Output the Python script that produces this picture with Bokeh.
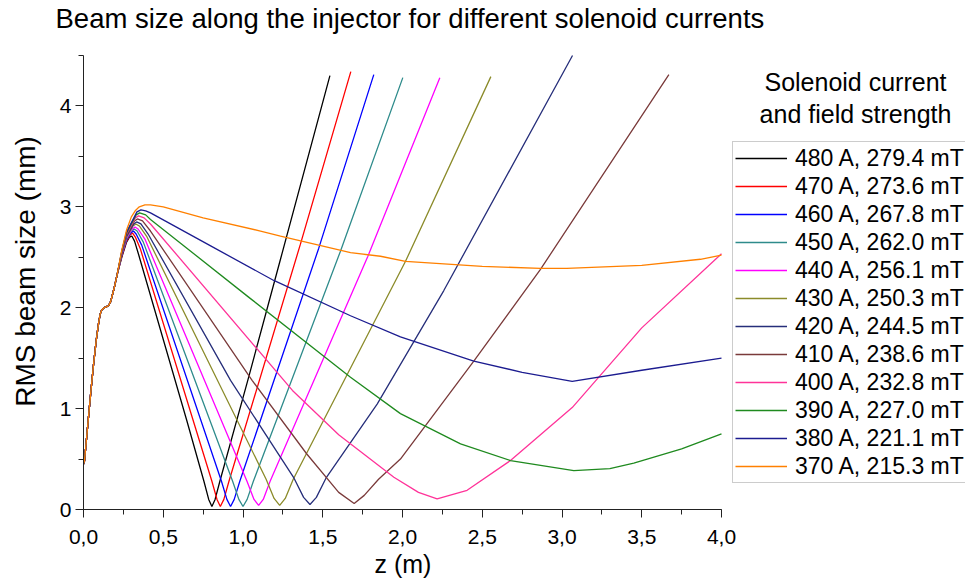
from bokeh.plotting import figure
from bokeh.models import Range1d, FixedTicker, Legend, LegendItem, Label, Title
from bokeh.embed import file_html
from bokeh.resources import INLINE

FONT = "Liberation Sans"

# ---- data ----
title_text = "Beam size along the injector for different solenoid currents"
x_label = "z (m)"
y_label = "RMS beam size (mm)"
legend_title_1 = "Solenoid current"
legend_title_2 = "and field strength"

x_ticks = [0.0, 0.5, 1.0, 1.5, 2.0, 2.5, 3.0, 3.5, 4.0]
x_tick_labels = ["0,0", "0,5", "1,0", "1,5", "2,0", "2,5", "3,0", "3,5", "4,0"]
y_ticks = [0, 1, 2, 3, 4]

labels = ["480 A, 279.4 mT", "470 A, 273.6 mT", "460 A, 267.8 mT", "450 A, 262.0 mT",
          "440 A, 256.1 mT", "430 A, 250.3 mT", "420 A, 244.5 mT", "410 A, 238.6 mT",
          "400 A, 232.8 mT", "390 A, 227.0 mT", "380 A, 221.1 mT", "370 A, 215.3 mT"]
colors = ["#000000", "#FF0000", "#0000FF", "#2E8B8B", "#FF00FF", "#8B8B2A",
          "#262E7A", "#7A3A3A", "#FF3399", "#1F8A1F", "#1C1C90", "#FF8000"]

# common part of all curves (gun region)
z_common = [0.0, 0.006, 0.02, 0.031, 0.045, 0.063, 0.08, 0.094, 0.105, 0.115, 0.13, 0.145, 0.157, 0.17, 0.19, 0.21]
y_common = [0.45, 0.48, 0.72, 0.91, 1.15, 1.44, 1.68, 1.84, 1.94, 1.98, 2.00, 2.01, 2.02, 2.06, 2.18, 2.32]

z_480 = [0.24, 0.27, 0.288, 0.303, 0.32, 0.345, 0.648, 0.755, 0.785, 0.805, 0.825, 0.855, 1.03, 1.235, 1.545]
y_480 = [2.50, 2.65, 2.70, 2.71, 2.66, 2.53, 0.88, 0.28, 0.10, 0.03, 0.10, 0.28, 1.28, 2.48, 4.30]

z_470 = [0.24, 0.27, 0.292, 0.308, 0.325, 0.355, 0.805, 0.837, 0.858, 0.88, 0.912, 1.36, 1.676]
y_470 = [2.51, 2.66, 2.72, 2.74, 2.70, 2.59, 0.28, 0.10, 0.03, 0.10, 0.28, 2.63, 4.34]

z_460 = [0.24, 0.27, 0.296, 0.313, 0.33, 0.365, 0.865, 0.899, 0.922, 0.945, 0.98, 1.475, 1.82]
y_460 = [2.52, 2.67, 2.74, 2.76, 2.73, 2.62, 0.28, 0.10, 0.03, 0.10, 0.28, 2.59, 4.31]

z_450 = [0.24, 0.27, 0.30, 0.318, 0.336, 0.375, 0.935, 0.974, 1.0, 1.026, 1.065, 1.611, 2.002]
y_450 = [2.525, 2.68, 2.76, 2.78, 2.76, 2.65, 0.28, 0.10, 0.03, 0.10, 0.28, 2.56, 4.28]

z_440 = [0.24, 0.27, 0.305, 0.323, 0.342, 0.385, 1.025, 1.069, 1.098, 1.127, 1.17, 1.783, 2.234]
y_440 = [2.53, 2.69, 2.78, 2.80, 2.78, 2.68, 0.28, 0.10, 0.04, 0.10, 0.28, 2.51, 4.28]

z_430 = [0.24, 0.27, 0.31, 0.328, 0.35, 0.395, 1.145, 1.195, 1.23, 1.265, 1.315, 2.019, 2.554]
y_430 = [2.535, 2.70, 2.81, 2.83, 2.81, 2.71, 0.30, 0.11, 0.04, 0.11, 0.30, 2.46, 4.29]

z_420 = [0.24, 0.27, 0.315, 0.333, 0.36, 0.405, 0.922, 1.32, 1.38, 1.42, 1.46, 1.52, 1.841, 2.259, 3.066]
y_420 = [2.54, 2.71, 2.83, 2.85, 2.83, 2.73, 1.28, 0.31, 0.12, 0.05, 0.12, 0.31, 1.045, 2.17, 4.50]

z_410 = [0.24, 0.27, 0.32, 0.338, 0.37, 0.42, 1.057, 1.40, 1.60, 1.697, 1.76, 1.85, 1.987, 2.447, 2.865, 3.67]
y_410 = [2.545, 2.72, 2.86, 2.88, 2.86, 2.76, 1.28, 0.55, 0.17, 0.06, 0.14, 0.30, 0.50, 1.47, 2.38, 4.31]

z_400 = [0.24, 0.27, 0.325, 0.345, 0.38, 0.42, 1.31, 1.60, 1.946, 2.10, 2.217, 2.405, 2.677, 3.064, 3.50, 4.0]
y_400 = [2.55, 2.73, 2.89, 2.91, 2.89, 2.83, 1.18, 0.74, 0.32, 0.17, 0.105, 0.19, 0.485, 1.01, 1.80, 2.535]

z_390 = [0.24, 0.27, 0.33, 0.352, 0.39, 0.42, 1.047, 1.674, 1.987, 2.364, 2.677, 3.074, 3.3, 3.45, 3.75, 4.0]
y_390 = [2.555, 2.74, 2.92, 2.94, 2.92, 2.875, 2.09, 1.31, 0.95, 0.65, 0.485, 0.386, 0.405, 0.46, 0.60, 0.75]

z_380 = [0.24, 0.27, 0.335, 0.36, 0.39, 0.42, 0.80, 1.193, 1.674, 1.987, 2.447, 2.75, 3.064, 3.5, 4.0]
y_380 = [2.56, 2.75, 2.95, 2.97, 2.96, 2.94, 2.61, 2.27, 1.92, 1.71, 1.47, 1.36, 1.27, 1.38, 1.50]

z_370 = [0.24, 0.27, 0.30, 0.324, 0.35, 0.385, 0.42, 0.5, 0.75, 1.11, 1.235, 1.674, 1.862, 2.019, 2.5, 2.865, 3.03, 3.5, 3.868, 4.0]
y_370 = [2.57, 2.77, 2.90, 2.96, 3.00, 3.02, 3.02, 3.00, 2.89, 2.76, 2.71, 2.545, 2.51, 2.46, 2.41, 2.39, 2.39, 2.42, 2.48, 2.52]

curves_z = [z_480, z_470, z_460, z_450, z_440, z_430, z_420, z_410, z_400, z_390, z_380, z_370]
curves_y = [y_480, y_470, y_460, y_450, y_440, y_430, y_420, y_410, y_400, y_390, y_380, y_370]

# ---- layout: the frame reaches the right and top edges; axes are bounded to the data span ----
X0, X1 = 0.0, 4.0
Y0, Y1 = 0.0, 4.5
W, H = 965, 583
LEFT, BOTTOM_PX, TOP_PX = 83, 509, 32       # frame left, y=0 pixel row, frame top row
PX_PER_X = 638 / (X1 - X0)
PX_PER_Y = 455 / (Y1 - Y0)
x_end = (W - LEFT) / PX_PER_X
y_end = (BOTTOM_PX - TOP_PX) / PX_PER_Y

p = figure(width=W, height=H, x_range=Range1d(X0, x_end), y_range=Range1d(Y0, y_end),
           output_backend="svg", toolbar_location=None,
           min_border_left=LEFT, min_border_right=0, min_border_top=TOP_PX,
           min_border_bottom=H - BOTTOM_PX)
p.outline_line_color = None
p.xgrid.visible = False
p.ygrid.visible = False
p.background_fill_color = "white"
p.border_fill_color = "white"

p.title.text = title_text
p.title.text_font = FONT
p.title.text_font_size = "27.5px"
p.title.text_font_style = "normal"
p.title.text_color = "black"
p.title.align = "left"
p.title.offset = -28
p.title.standoff = 0

xa = p.below[0]
ya = p.left[0]
for ax in (xa, ya):
    ax.axis_line_color = "#222222"
    ax.major_tick_line_color = "#222222"
    ax.minor_tick_line_color = "#222222"
    ax.major_tick_out = 8
    ax.major_tick_in = 0
    ax.minor_tick_out = 5
    ax.minor_tick_in = 0
    ax.major_label_text_font = FONT
    ax.major_label_text_font_size = "21px"
    ax.major_label_text_color = "black"
    ax.axis_label_text_font = FONT
    ax.axis_label_text_font_style = "normal"
    ax.axis_label_text_color = "black"

xa.bounds = (X0, X1)
xa.ticker = FixedTicker(ticks=x_ticks, minor_ticks=[0.25 * i for i in range(17)])
xa.major_label_overrides = {t: l for t, l in zip(x_ticks, x_tick_labels)}
xa.major_label_standoff = 12

ya.bounds = (Y0, Y1)
ya.ticker = FixedTicker(ticks=y_ticks, minor_ticks=[0.5 * i for i in range(10)])
ya.axis_label = y_label
ya.axis_label_text_font_size = "28px"
ya.major_label_standoff = 4
ya.axis_label_standoff = 16

# x-axis title centred under the 0..4 span (placed as a title in the lower panel)
xt = Title(text=x_label, text_font=FONT, text_font_size="25px", text_font_style="normal",
           text_color="black", align="left", offset=(X1 - X0) / 2 * PX_PER_X - 28, standoff=2)
p.add_layout(xt, "below")

items = []
for zs, ys, c, lab in zip(curves_z, curves_y, colors, labels):
    r = p.line(z_common + zs, y_common + ys, line_color=c, line_width=1.3)
    items.append(LegendItem(label=lab, renderers=[r]))

legend = Legend(items=items, location=(649, 26),
                label_text_font=FONT, label_text_font_size="23px", label_text_color="black",
                glyph_width=52, glyph_height=28, label_height=28, spacing=0,
                padding=2, margin=0, label_standoff=8,
                border_line_color="#999999", border_line_width=1,
                background_fill_color="white", background_fill_alpha=1.0)
p.add_layout(legend)

p.add_layout(Label(x=4.84, y=4.24, text=legend_title_1, text_font=FONT, text_font_size="25px",
                   text_align="center", text_baseline="middle", text_color="black"))
p.add_layout(Label(x=4.84, y=3.92, text=legend_title_2, text_font=FONT, text_font_size="25px",
                   text_align="center", text_baseline="middle", text_color="black"))

open("out.html", "w").write(file_html(p, INLINE))
